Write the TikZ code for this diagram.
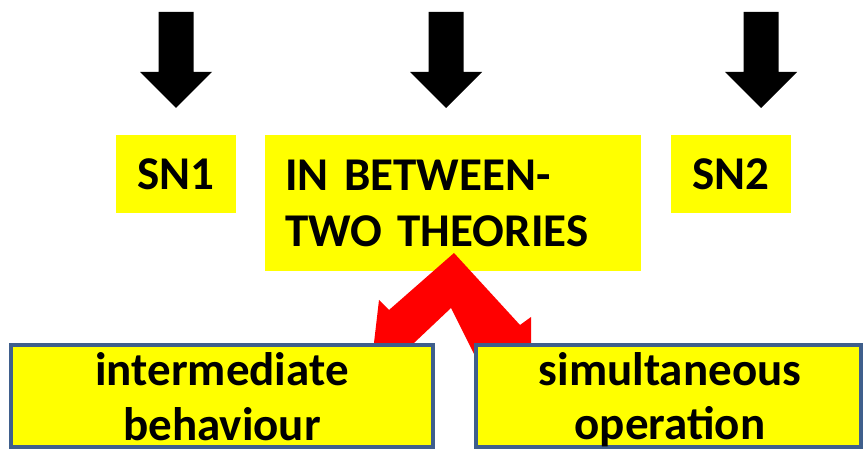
\documentclass[tikz,border=0pt]{standalone}
\usepackage{fontspec}
\setmainfont{Carlito}
\definecolor{boxyellow}{HTML}{FFFF00}
\definecolor{chevred}{HTML}{FF0000}
\definecolor{boxborder}{HTML}{3F5F8C}
\begin{document}
\begin{tikzpicture}[x=1pt,y=-1pt,
  bigtext/.style={font=\fontsize{47}{56}\selectfont\bfseries},
  ybox/.style={fill=boxyellow, draw=none, inner sep=0pt, bigtext},
  bbox/.style={fill=boxyellow, draw=boxborder, line width=4pt, inner sep=0pt},
  btext/.style={bigtext, anchor=base, inner sep=0pt},
  blockarr/.pic={\fill[black] (-17.5,-96) -- (17.5,-96) -- (17.5,-36) -- (36,-36) -- (0,0) -- (-36,-36) -- (-17.5,-36) -- cycle;}
]
\useasboundingbox (0,0) rectangle (863,449);
\clip (0,0) rectangle (863,449);
\fill[white] (0,0) rectangle (863,449);

% black arrows
\coordinate (t1) at (176,108);
\coordinate (t2) at (446,108);
\coordinate (t3) at (761,108);
\pic at (t1) {blockarr};
\pic at (t2) {blockarr};
\pic at (t3) {blockarr};

% top boxes
\node[ybox, minimum width=120pt, minimum height=78pt] (sn1) at (176,174) {SN1};
\node[ybox, minimum width=120pt, minimum height=78pt] (sn2) at (731,174) {SN2};
\node[ybox, minimum width=376pt, minimum height=136pt, text width=336pt, align=left, inner xsep=20pt] (mid) at (453,203) {IN BETWEEN-\\TWO THEORIES};

% red double chevron arrow
\fill[chevred] (454,253) -- (520,325) -- (531,317) -- (531,360) -- (477,360) -- (451,308)
  -- (396,360) -- (372,360) -- (379,300) -- (389,310) -- cycle;

% bottom boxes
\node[bbox, minimum width=422pt, minimum height=102pt] (lbox) at (222,396) {};
\node[bbox, minimum width=385pt, minimum height=102pt] (rbox) at (668.5,396) {};
\node[btext] (l1) at (222,385) {intermediate};
\node[btext] (l2) at (222,440) {behaviour};
\node[btext] (r1) at (670,385) {simultaneous};
\node[btext] (r2) at (670,439) {operation};
\end{tikzpicture}
\end{document}
